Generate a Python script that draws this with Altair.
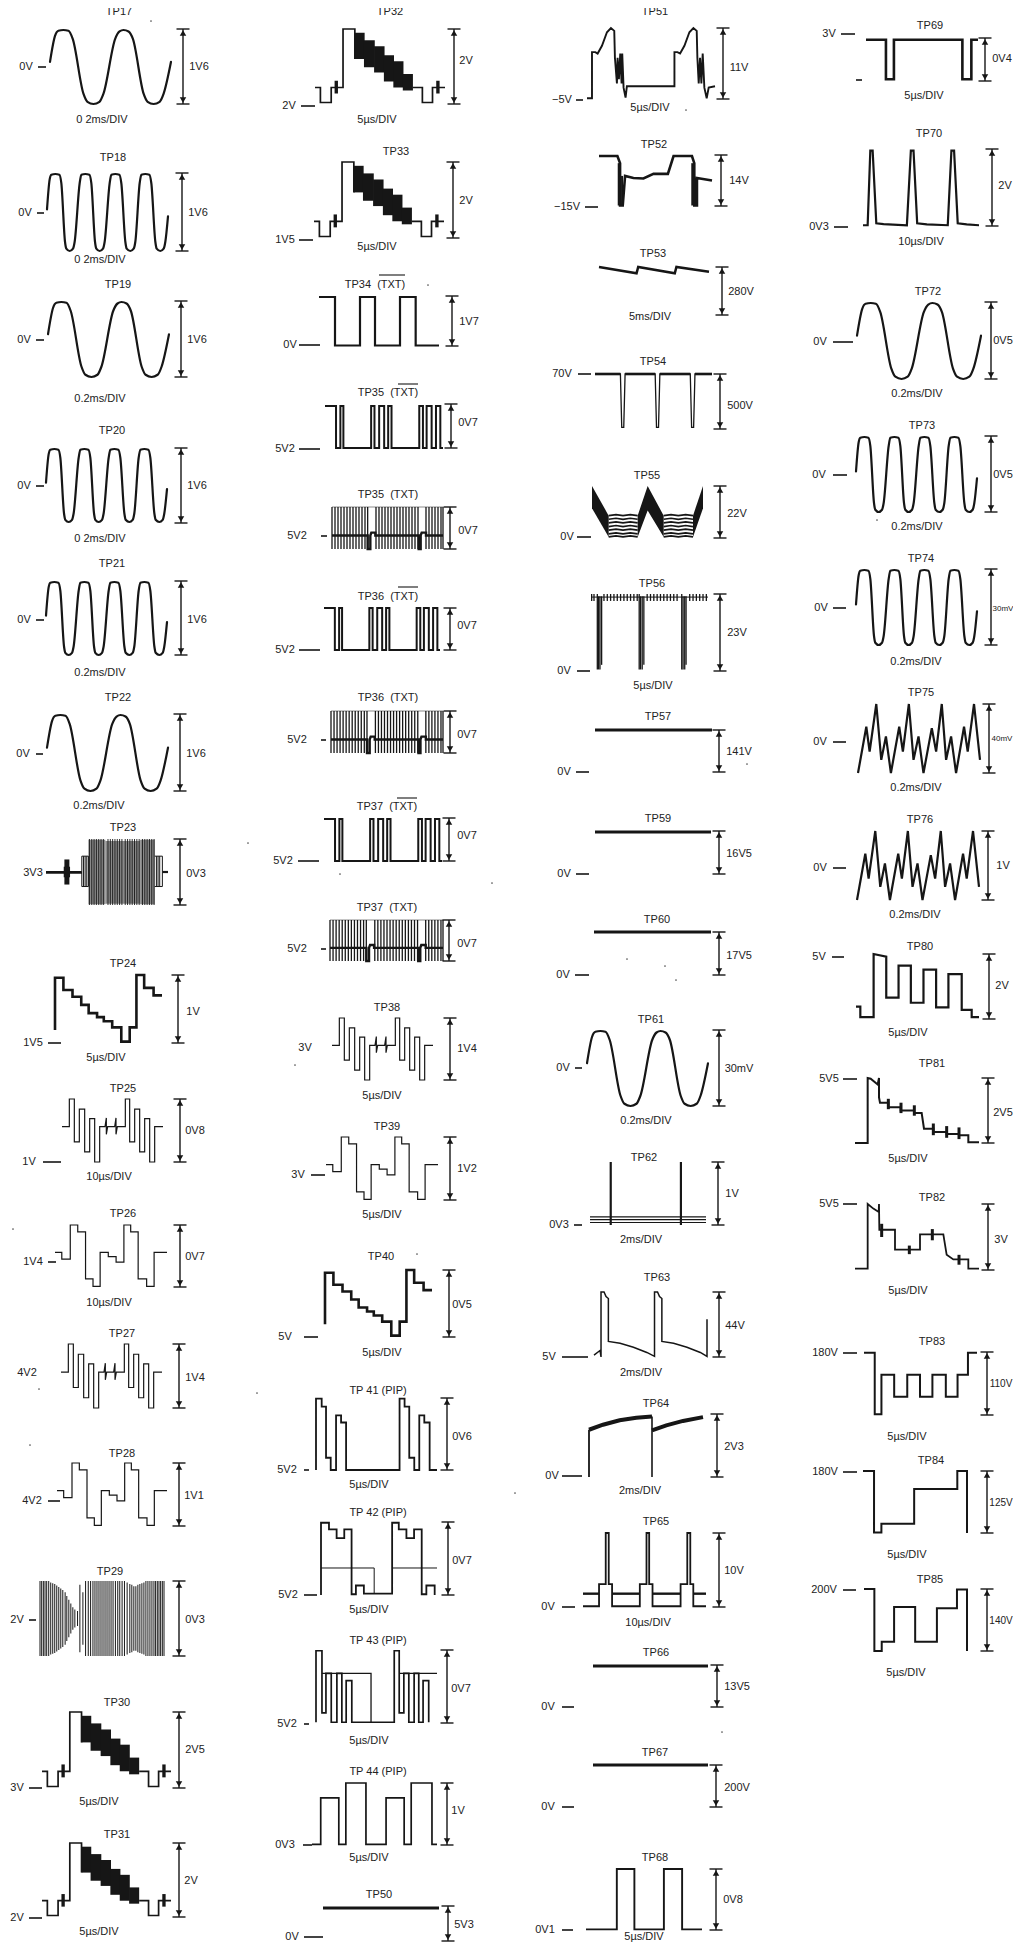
import altair as alt
import pandas as pd

alt.data_transformers.disable_max_rows()

INK = "#161616"
FONT = "Liberation Sans"
GAP = "\u00a0\u00a0"

# ---- text read from the sheet: (text, x, y)
TITLES = [
    ("TP17",119,12),("TP18",113,158),("TP19",118,285),("TP20",112,431),("TP21",112,564),("TP22",118,698),
    ("TP23",123,828),("TP24",123,964),("TP25",123,1089),("TP26",123,1214),("TP27",122,1334),("TP28",122,1454),
    ("TP29",110,1572),("TP30",117,1703),("TP31",117,1835),
    ("TP32",390,12),("TP33",396,152),("TP34"+GAP+"(TXT)",375,285),("TP35"+GAP+"(TXT)",388,393),("TP35"+GAP+"(TXT)",388,495),
    ("TP36"+GAP+"(TXT)",388,597),("TP36"+GAP+"(TXT)",388,698),("TP37"+GAP+"(TXT)",387,807),("TP37"+GAP+"(TXT)",387,908),
    ("TP38",387,1008),("TP39",387,1127),("TP40",381,1257),("TP 41 (PIP)",378,1391),("TP 42 (PIP)",378,1513),
    ("TP 43 (PIP)",378,1641),("TP 44 (PIP)",378,1772),("TP50",379,1895),
    ("TP51",655,12),("TP52",654,145),("TP53",653,254),("TP54",653,362),("TP55",647,476),("TP56",652,584),
    ("TP57",658,717),("TP59",658,819),("TP60",657,920),("TP61",651,1020),("TP62",644,1158),("TP63",657,1278),
    ("TP64",656,1404),("TP65",656,1522),("TP66",656,1653),("TP67",655,1753),("TP68",655,1858),
    ("TP69",930,26),("TP70",929,134),("TP72",928,292),("TP73",922,426),("TP74",921,559),("TP75",921,693),
    ("TP76",920,820),("TP80",920,947),("TP81",932,1064),("TP82",932,1198),("TP83",932,1342),("TP84",931,1461),
    ("TP85",930,1580),
]
OVERLINES = [(379,405,275),(398,418,384),(398,418,587),(397,417,798)]
TIME_LABELS = [
    ("0 2ms/DIV",102,120),("0 2ms/DIV",100,260),("0.2ms/DIV",100,399),("0 2ms/DIV",100,539),("0.2ms/DIV",100,673),
    ("0.2ms/DIV",99,806),("5µs/DIV",106,1058),("10µs/DIV",109,1177),("10µs/DIV",109,1303),("5µs/DIV",99,1802),
    ("5µs/DIV",99,1932),
    ("5µs/DIV",377,120),("5µs/DIV",377,247),("5µs/DIV",382,1096),("5µs/DIV",382,1215),("5µs/DIV",382,1353),
    ("5µs/DIV",369,1485),("5µs/DIV",369,1610),("5µs/DIV",369,1741),("5µs/DIV",369,1858),
    ("5µs/DIV",650,108),("5ms/DIV",650,317),("5µs/DIV",653,686),("0.2ms/DIV",646,1121),("2ms/DIV",641,1240),
    ("2ms/DIV",641,1373),("2ms/DIV",640,1491),("10µs/DIV",648,1623),("5µs/DIV",644,1937),
    ("5µs/DIV",924,96),("10µs/DIV",921,242),("0.2ms/DIV",917,394),("0.2ms/DIV",917,527),("0.2ms/DIV",916,662),
    ("0.2ms/DIV",916,788),("0.2ms/DIV",915,915),("5µs/DIV",908,1033),("5µs/DIV",908,1159),("5µs/DIV",908,1291),
    ("5µs/DIV",907,1437),("5µs/DIV",907,1555),("5µs/DIV",906,1673),
]
# (text, x, y, dash start, dash end)
LEVELS = [
    ("0V",26,67,38,46),("0V",25,213,37,44),("0V",24,340,36,44),("0V",24,486,36,44),("0V",24,620,36,44),
    ("0V",23,754,36,43),("3V3",33,873,46,82),("1V5",33,1043,48,61),("1V",29,1162,43,61),("1V4",33,1262,48,56),
    ("4V2",27,1373,0,0),("4V2",32,1501,48,60),("2V",17,1620,29,36),("3V",17,1788,29,42),("2V",17,1918,29,42),
    ("2V",289,106,301,315),("1V5",285,240,299,313),("0V",290,345,299,320),("5V2",285,449,299,320),
    ("5V2",297,536,321,327),("5V2",285,650,299,320),("5V2",297,740,321,326),("5V2",283,861,298,319),
    ("5V2",297,949,321,326),("3V",305,1048,0,0),("3V",298,1175,311,325),("5V",285,1337,304,318),
    ("5V2",287,1470,304,309),("5V2",288,1595,304,317),("5V2",287,1724,304,309),("0V3",285,1845,303,312),
    ("0V",292,1937,304,323),
    ("−5V",562,100,576,583),("−15V",567,207,585,598),("70V",562,374,578,591),("0V",567,537,577,591),
    ("0V",564,671,577,590),("0V",564,772,576,589),("0V",564,874,576,589),("0V",563,975,575,589),
    ("0V",563,1068,575,582),("0V3",559,1225,574,582),("5V",549,1357,562,588),("0V",552,1476,562,582),
    ("0V",548,1607,562,575),("0V",548,1707,562,574),("0V",548,1807,562,574),("0V1",545,1930,562,573),
    ("3V",829,34,841,855),("",0,80,856,862),("0V3",819,227,834,848),("0V",820,342,833,853),("0V",819,475,833,847),
    ("0V",821,608,833,846),("0V",820,742,833,846),("0V",820,868,833,846),("5V",819,957,832,844),
    ("5V5",829,1079,843,857),("5V5",829,1204,843,857),("180V",825,1353,843,857),("180V",825,1472,843,857),
    ("200V",824,1590,843,856),
]
# (arrow x, top, bottom, label, label x, label y)
ARROWS = [
    (183,29,104,"1V6",199,67),(182,173,251,"1V6",198,213),(181,301,377,"1V6",197,340),(181,448,523,"1V6",197,486),
    (181,581,655,"1V6",197,620),(180,714,791,"1V6",196,754),(180,839,905,"0V3",196,874),(178,975,1043,"1V",193,1012),
    (180,1099,1162,"0V8",195,1131),(180,1225,1287,"0V7",195,1257),(179,1344,1408,"1V4",195,1378),
    (179,1463,1526,"1V1",194,1496),(179,1581,1656,"0V3",195,1620),(179,1712,1788,"2V5",195,1750),(179,1843,1917,"2V",191,1881),
    (454,29,104,"2V",466,61),(453,162,238,"2V",466,201),(452,296,346,"1V7",469,322),(451,404,448,"0V7",468,423),
    (450,507,549,"0V7",468,531),(450,608,650,"0V7",467,626),(450,711,753,"0V7",467,735),(449,818,861,"0V7",467,836),
    (449,920,961,"0V7",467,944),(450,1018,1080,"1V4",467,1049),(450,1137,1200,"1V2",467,1169),(449,1270,1337,"0V5",462,1305),
    (447,1398,1470,"0V6",462,1437),(448,1522,1595,"0V7",462,1561),(447,1650,1723,"0V7",461,1689),(447,1783,1845,"1V",458,1811),
    (448,1906,1941,"5V3",464,1925),
    (723,28,99,"11V",739,68),(721,155,206,"14V",739,181),(722,267,315,"280V",741,292),(720,374,429,"500V",740,406),
    (720,486,538,"22V",737,514),(720,594,671,"23V",737,633),(719,730,772,"141V",739,752),(719,831,874,"16V5",739,854),
    (719,932,975,"17V5",739,956),(719,1030,1106,"30mV",739,1069),(718,1162,1225,"1V",732,1194),(719,1292,1357,"44V",735,1326),
    (717,1414,1477,"2V3",734,1447),(719,1533,1607,"10V",734,1571),(717,1665,1707,"13V5",737,1687),(716,1765,1807,"200V",737,1788),
    (716,1869,1930,"0V8",733,1900),
    (985,38,81,"0V4",1002,59),(992,149,226,"2V",1005,186),(991,302,379,"0V5",1003,341),(991,436,512,"0V5",1003,475),
    (991,569,645,"30mV",1003,609),(989,704,773,"40mV",1002,739),(988,831,900,"1V",1003,866),(989,954,1019,"2V",1002,986),
    (988,1078,1143,"2V5",1003,1113),(988,1204,1270,"3V",1001,1240),(987,1352,1415,"110V",1001,1384),
    (987,1471,1533,"125V",1001,1503),(987,1589,1651,"140V",1001,1621),
]
# labels squeezed against the right edge of the page
SMALL_LABELS = {("30mV",1003):8, ("40mV",1002):8, ("110V",1001):10, ("125V",1001):10, ("140V",1001):10}
SPECKS = [(151,21),(248,843),(13,1229),(39,1389),(30,1445),(257,1393),(428,285),(340,874),(492,883),(295,1065),
          (417,1254),(515,1493),(686,110),(627,959),(665,966),(676,980),(747,764),(722,1732),(877,520)]

# ---- waveform shapes: t = time in reading units, v = % of the peak-to-peak height
SLOW_T = [150,165,175,190,205,218,250,262,280,298,310,345,358,370,385,398,430,442,460,478,490,512]
SLOW_V = [57,92,99,100,99,88,14,3,0,3,14,88,98,100,98,88,14,3,0,3,14,57]
FAST_T = [140,148,153,165,177,183,194,198,208,218,223,238,243,255,267,273,284,288,298,308,313,328,333,345,357,363,375,379,390,400,405,418,423,435,447,453,465,469,480,490,495,503]
FAST_V = [54,93,99,100,99,88,12,3,0,3,12,88,99,100,99,88,12,3,0,3,12,88,99,100,99,88,12,3,0,3,12,88,99,100,99,88,12,3,0,3,12,45]
STAIR_T = [165,165,190,190,217,217,243,243,265,265,290,290,310,310,335,335,362,362,387,387,407,407,430,430,458,458,483]
STAIR_V = [19,96,96,78,78,68,68,56,56,44,44,38,38,32,32,23,23,2,2,23,23,100,100,81,81,70,70]
GLITCH_T = [185,207,207,222,222,237,237,253,253,268,268,283,283,298,298,314,318,318,322,343,347,347,351,375,375,388,388,403,403,418,418,433,433,448,448,463,463,488]
GLITCH_V = [56,56,100,100,32,32,84,84,16,16,69,69,0,0,56,56,70,44,56,56,70,44,56,56,100,100,32,32,84,84,16,16,69,69,0,0,56,56]
STEPS_T = [170,190,190,215,215,237,237,260,260,282,282,303,303,327,327,350,350,373,373,393,393,415,415,440,440,462,462,500]
STEPS_V = [56,56,45,45,100,100,89,89,13,13,1,1,56,56,49,49,40,40,100,100,89,89,13,13,1,1,56,56]
VS_A_T = [127,143,143,175,175,210,210,245,245]
VS_A_V = [22,22,2,2,22,22,100,100,60]
VS_B_T = [417,445,445,475,475,512]
VS_B_V = [22,22,2,2,22,22]
VS_BLOCK_T0 = [245,272,302,331,359,387,185,486]
VS_BLOCK_T1 = [274,304,333,361,389,417,195,496]
VS_BLOCK_HI = [95,85,77,65,57,40,31,31]
VS_BLOCK_LO = [60,49,42,30,22,18,14,14]
TXTBAR_T = [195,228,228,241,241,250,250,333,333,343,343,357,357,372,372,384,384,394,394,477,477,488,488,499,499,514,514,527,527,540,540,548]
TXTBAR_V = [100,100,0,0,100,100,0,0,100,100,0,0,100,100,0,0,100,100,0,0,100,100,0,0,100,100,0,0,100,100,0,0]
COMB_T = [215,224,233,242,251,260,269,278,287,296,305,314,322,347,356,365,374,383,392,401,410,419,428,437,446,455,464,473,497,506,515,524,533,542,548]
COMB_MID_T = [215,322,322,330,330,333,345,345,475,475,481,481,484,497,497,548]
COMB_MID_V = [32,32,0,0,32,39,39,32,32,0,0,32,39,39,32,32]
TOP_T = [215,548]
TOP_V = [100,100]
P34_T = [177,225,225,300,300,345,345,420,420,467,467,537]
P34_V = [100,100,1,1,100,100,1,1,100,100,1,1]
P41_T = [168,168,185,185,198,198,212,212,228,228,243,243,258,258,418,418,433,433,447,447,462,462,477,477,492,492,508,508,530]
P41_V = [0,99,99,88,88,17,17,0,0,76,76,66,66,0,0,99,99,88,88,17,17,0,0,76,76,66,66,0,0]
P42_T = [183,183,207,207,230,230,253,253,275,275,288,288,312,312,397,397,417,417,440,440,463,463,486,486,500,500,525,525]
P42_V = [0,99,99,90,90,78,78,90,90,1,1,13,13,2,2,99,99,90,90,78,78,90,90,1,1,13,13,0]
P42_B_T = [183,343,343]
P42_B_V = [37,37,2]
P42_C_T = [397,532]
P42_C_V = [37,37]
P43_T = [167,167,185,185,197,197,213,213,230,230,245,245,258,258,275,275,403,403,418,418,432,432,447,447,463,463,477,477,490,490,507,507]
P43_V = [1,99,99,14,14,68,68,1,1,68,68,1,1,58,58,1,1,99,99,14,14,68,68,1,1,68,68,1,1,58,58,1]
P43_B_T = [185,333,333]
P43_B_V = [68,68,1]
P43_C_T = [418,532]
P43_C_V = [68,68]
P44_T = [157,183,183,237,237,258,258,318,318,378,378,432,432,453,453,515,515,530]
P44_V = [1,1,76,76,1,1,100,100,1,1,76,76,1,1,100,100,1,1]
FLAT_T = [0,100]
FLAT_V = [50,50]
P51_T = [200,215,215,225,232,245,260,272,282,284,287,290,292,296,300,304,306,310,316,320,463,463,472,480,493,508,520,530,532,536,540,544,548,553,560,566,585]
P51_V = [1,1,66,66,64,75,94,100,96,58,40,22,58,28,64,22,64,16,2,18,18,66,66,64,75,94,100,96,58,22,58,22,64,16,1,16,18]
P52_T = [237,292,300,300,308,315,340,370,400,443,460,515,522,522,530,530,575]
P52_V = [98,98,84,1,1,59,55,54,63,63,98,98,84,1,1,55,50]
P52_TICK_T = [296,306,516,526]
P52_TICK_HI = [84,59,84,55]
P52_TICK_LO = [1,1,1,1]
P53_T = [237,350,355,465,470,568]
P53_V = [100,87,100,87,100,90]
P54_T = [225,301,305,311,315,405,409,415,419,510,514,520,524,575]
P54_V = [100,100,3,3,100,100,3,3,100,100,3,3,100,100]
P54_TOP_T = [[225,301],[315,405],[419,510],[524,575]]
P54_TOP_V = [100,100]
P55_A_T = [[215,265],[352,382,430],[518,548]]
P55_A_HI = [[100,43],[43,100,43],[43,100]]
P55_A_LO = [[57,2],[2,53,2],[2,57]]
WAVE_T = [[265,287,308,330,352],[430,452,474,496,518]]
WAVE_BASE = [43,36,29,22,15,8,2]
WAVE_BUMP = [0,2,0,2,0]
P56_RIM_T = [213,565]
P56_RIM_V = [96,96]
P56_TICK_T = [215,222,232,236,240,245,252,262,272,282,292,302,312,322,332,342,352,358,362,367,372,382,392,402,412,422,432,442,452,462,472,486,490,495,499,510,520,530,540,550,560]
P56_TICK_HI = [100,100,100,97,97,97,100,100,100,100,100,100,100,100,100,100,100,100,97,97,97,100,100,100,100,100,100,100,100,100,100,100,97,97,97,100,100,100,100,100,100]
P56_TICK_LO = [91,91,2,2,2,8,91,91,91,91,91,91,91,91,91,91,91,2,2,2,8,91,91,91,91,91,91,91,91,91,91,2,2,2,8,91,91,91,91,91,91]
P62_TICK_T = [272,482]
P62_TICK_HI = [100,100]
P62_TICK_LO = [0,0]
P62_T = [210,557]
P62_BANDS = [13,8.5,4]
P63_T = [222,240,243,243,252,258,265,265,300,340,380,403,403,412,418,425,425,460,500,540,560,560]
P63_V = [3,10,0,100,100,93,90,24,21,15,7,1,100,100,93,90,24,21,15,7,1,58]
P64_A_T = [208,208]
P64_A_V = [0,75]
P64_B_T = [208,250,300,350,397]
P64_B_V = [75,83,90,94,96]
P64_C_T = [397,397]
P64_C_V = [96,0]
P64_D_T = [397,440,490,550]
P64_D_V = [74,82,89,95]
P65_T = [190,238,238,258,258,267,267,277,277,360,360,380,380,388,388,398,398,482,482,502,502,511,511,520,520,558]
P65_V = [1,1,31,31,100,100,31,31,1,1,31,31,100,100,31,31,1,1,31,31,100,100,31,31,1,1]
P65_UP_T = [[190,238],[277,360],[398,482],[520,558]]
P65_UP_V = [18,18]
P68_T = [197,290,290,343,343,432,432,487,487,547]
P68_V = [1,1,100,100,1,1,100,100,1,1]
P69_T = [258,318,318,342,342,548,548,575,575,595]
P69_V = [96,96,4,4,96,96,4,4,96,96]
P70_T = [248,262,270,277,288,310,380,392,400,411,440,503,514,522,533,560,597]
P70_V = [1,1,98,98,3.5,2.5,1,98,98,3.5,2,1,98,98,3.5,2,1]
NOISE_T = [233,258,268,288,303,317,332,357,368,386,400,415,430,455,468,485,498,513,528,552,563,582,600]
NOISE_V = [0,67,31,100,19,53,0,67,31,100,19,53,0,65,31,100,19,53,0,67,31,100,19]
P80_T = [227,240,240,280,280,318,318,355,355,392,392,430,430,468,468,505,505,545,545,575,575,597]
P80_V = [19,19,3,3,100,96,33,33,82,82,25,25,76,76,18,18,69,69,14,14,3,3]
P81_T = [225,263,263,272,293,297,297,300,325,325,362,362,402,402,425,432,460,460,500,500,537,537,565,565,597]
P81_V = [0,0,100,99,90,100,70,62,62,55,55,50,50,46,46,22,22,17,17,14,14,12,12,1,1]
P81_TICK_T = [325,363,403,460,500,537]
P81_TICK_HI = [68,62,58,30,26,24]
P81_TICK_LO = [52,46,42,12,8,6]
P82_T = [225,263,263,280,296,297,298,345,345,420,420,490,500,520,565,565,597]
P82_V = [2,2,100,93,88,100,61,61,31,31,54,54,23,16,16,2,2]
P82_TICK_T = [305,388,457,537]
P82_TICK_HI = [70,37,62,23]
P82_TICK_LO = [50,24,45,8]
P83_T = [253,285,285,305,305,343,343,382,382,420,420,457,457,497,497,532,532,563,563,590]
P83_V = [99,99,1,1,64,64,29,29,64,64,29,29,64,64,29,29,64,64,99,99]
P84_T = [250,283,283,305,305,403,403,532,532,561,561]
P84_V = [100,100,1,1,15,15,71,71,100,100,0]
P85_T = [252,283,283,305,305,342,342,405,405,470,470,530,530,560,560]
P85_V = [100,100,0,0,15,15,71,71,15,15,69,69,99,99,0]
P23_LINE_T = [137,245]
P23_LINE_V = [50,50]
P23_BOX_L_T = [245,245,265,265,245]
P23_BOX_R_T = [465,488,488,465]
P23_BOX_V = [28,74,74,28,28]
P23_BOX_RV = [74,74,28,28]
P23_END_T = [488,505]
P23_TICK_T = [200,195,205,250,255,260,470,475,480,268,275,282,289,296,303,310,324,331,338,345,352,359,366,376,383,390,397,404,411,418,428,435,442,449,456,463]
P23_TICK_HI = [69,58,58,74,74,74,74,74,74]+[100]*27
P23_TICK_LO = [31,42,42,28,28,28,28,28,28]+[0]*27
P23_TICK_W = [5,3,3,1,1,1,1,1,1]+[0.9]*27
P23_BLOCK_T0 = [265,316,369,421]
P23_BLOCK_T1 = [316,369,421,465]
P29_T = [120,125,130,135,140,146,152,158,164,170,176,182,188,195,200,206,212,218,224,232,239,248,256,264,271,278,284,290,296,302,308,314,320,326,332,338,345,352,358,365,372,380,388,394,400,406,412,418,424,430,436,442,448,454,460,465,470,475,480,485,490]
P29_HI = [100,100,100,100,100,100,98,97,96,94,92,90,88,85,80,75,70,65,62,60,95,85,100,100,100,100,100,100,100,100,100,100,100,100,100,100,100,100,100,100,100,98,96,95,93,93,95,96,97,98,100,100,100,100,100,100,100,100,100,100,100]


def shape(lines=(), ticks=None, rects=None, areas=None, smooth=False):
    return dict(lines=list(lines), ticks=ticks, rects=rects, areas=areas, smooth=smooth)

VSYNC = shape([(VS_A_T,VS_A_V,1),(VS_B_T,VS_B_V,1)],
              rects=(VS_BLOCK_T0,VS_BLOCK_T1,VS_BLOCK_HI,VS_BLOCK_LO,INK))
TXTBAR = shape([(TXTBAR_T,TXTBAR_V,1)])
COMB = shape([(TOP_T,TOP_V,0.5),(COMB_MID_T,COMB_MID_V,2.4)],
             ticks=(COMB_T,[100]*len(COMB_T),[0]*len(COMB_T),[1.3]*len(COMB_T)))
SLOW = shape([(SLOW_T,SLOW_V,1)],smooth=True)
FAST = shape([(FAST_T,FAST_V,1)],smooth=True)
STAIR = shape([(STAIR_T,STAIR_V,1)])
GLITCH = shape([(GLITCH_T,GLITCH_V,1)])
STEPS = shape([(STEPS_T,STEPS_V,1)])
FLAT = shape([(FLAT_T,FLAT_V,1)])
NOISE = shape([(NOISE_T,NOISE_V,1)])

WAVE_LINES = [(ts,[b+k for k in WAVE_BUMP],1) for ts in WAVE_T for b in WAVE_BASE]

# (shape, left, right, top, bottom, stroke width)
TRACES = [
    (SLOW,50,171,30,104,2.2),(FAST,47,168,174,251,2.2),(SLOW,48,169,302,377,2.2),(FAST,46,167,449,522,2.2),
    (FAST,46,167,582,655,2.2),(SLOW,47,168,715,791,2.2),
    (shape([(P23_LINE_T,P23_LINE_V,2.2),(P23_BOX_L_T,P23_BOX_V,1),(P23_BOX_R_T,P23_BOX_RV,1),(P23_END_T,P23_LINE_V,2.2)],
           ticks=(P23_TICK_T,P23_TICK_HI,P23_TICK_LO,P23_TICK_W),
           rects=(P23_BLOCK_T0,P23_BLOCK_T1,[99,97,97,99],[1,2,2,1],"#8a8a8a")),46,168,839,905,1),
    (STAIR,55,162,975,1043,2.6),(GLITCH,62,163,1099,1162,1.2),(STEPS,55,167,1225,1287,1.2),
    (GLITCH,61,162,1344,1408,1.2),(STEPS,57,167,1463,1526,1.2),
    (shape([],ticks=(P29_T,P29_HI,[100-h for h in P29_HI],[1.0]*len(P29_T))),40,164,1581,1656,1),
    (VSYNC,42,171,1712,1788,1.7),(VSYNC,42,171,1843,1917,1.7),
    (VSYNC,315,445,29,104,1.7),(VSYNC,314,444,162,238,1.7),
    (shape([(P34_T,P34_V,1)]),319,439,297,346,2.2),
    (TXTBAR,325,443,406,448,2),(COMB,332,443,507,549,1),(TXTBAR,324,440,608,650,2),(COMB,331,443,711,753,1),
    (TXTBAR,324,442,819,861,2),(COMB,330,443,920,961,1),(GLITCH,332,433,1018,1080,1.2),(STEPS,326,438,1137,1200,1.2),
    (STAIR,325,432,1270,1337,2.6),
    (shape([(P41_T,P41_V,1)]),316,437,1398,1470,1.8),
    (shape([(P42_T,P42_V,1.8),(P42_B_T,P42_B_V,1),(P42_C_T,P42_C_V,1)]),321,437,1522,1595,1),
    (shape([(P43_T,P43_V,1.7),(P43_B_T,P43_B_V,1.3),(P43_C_T,P43_C_V,1.3)]),316,437,1650,1723,1),
    (shape([(P44_T,P44_V,1)]),312,437,1783,1845,1.7),
    (FLAT,323,439,1908,1908,3),
    (shape([(P51_T,P51_V,1)]),587,715,28,99,1.9),
    (shape([(P52_T,P52_V,1)],ticks=(P52_TICK_T,P52_TICK_HI,P52_TICK_LO,[2,2,2,2])),599,712,155,206,2.6),
    (shape([(P53_T,P53_V,1)]),599,709,267,315,2.5),
    (shape([(P54_T,P54_V,1.3)]+[(ts,P54_TOP_V,2.6) for ts in P54_TOP_T]),595,712,374,429,1),
    (shape(WAVE_LINES,areas=list(zip(P55_A_T,P55_A_HI,P55_A_LO))),592,703,486,538,1.7),
    (shape([(P56_RIM_T,P56_RIM_V,1)],ticks=(P56_TICK_T,P56_TICK_HI,P56_TICK_LO,[1.3]*len(P56_TICK_T))),591,708,594,671,1),
    (FLAT,595,712,730,730,3),(FLAT,595,711,832,832,3),(FLAT,594,711,932,932,3),
    (SLOW,587,708,1031,1106,2.2),
    (shape([(P62_T,[b,b],1.2) for b in P62_BANDS],ticks=(P62_TICK_T,P62_TICK_HI,P62_TICK_LO,[2.2,2.2])),590,706,1162,1225,1),
    (shape([(P63_T,P63_V,1)]),594,707,1292,1357,1.5),
    (shape([(P64_A_T,P64_A_V,1.8),(P64_B_T,P64_B_V,4),(P64_C_T,P64_C_V,1.6),(P64_D_T,P64_D_V,4)]),589,703,1414,1477,1),
    (shape([(P65_T,P65_V,1.8)]+[(ts,P65_UP_V,2.4) for ts in P65_UP_T]),583,706,1533,1607,1),
    (FLAT,593,708,1666,1666,3),(FLAT,593,708,1765,1765,3),
    (shape([(P68_T,P68_V,1)]),586,702,1869,1930,1.9),
    (shape([(P69_T,P69_V,1)]),866,978,38,81,2.6),
    (shape([(P70_T,P70_V,1)]),863,979,149,226,2.2),
    (SLOW,857,981,303,379,2.2),(FAST,856,977,437,512,2.2),(FAST,856,977,570,645,2.2),
    (NOISE,858,980,704,773,2.2),(NOISE,857,979,831,900,2.2),
    (shape([(P80_T,P80_V,1)]),856,979,954,1019,2.2),
    (shape([(P81_T,P81_V,1)],ticks=(P81_TICK_T,P81_TICK_HI,P81_TICK_LO,[3]*6)),855,979,1078,1143,2),
    (shape([(P82_T,P82_V,1)],ticks=(P82_TICK_T,P82_TICK_HI,P82_TICK_LO,[3]*4)),855,979,1204,1270,1.8),
    (shape([(P83_T,P83_V,1)]),864,977,1352,1415,2),(shape([(P84_T,P84_V,1)]),863,967,1471,1533,2),
    (shape([(P85_T,P85_V,1)]),864,967,1589,1651,2),
]


# ---- build tables
line_rows, smooth_rows, tick_rows, rect_rows, area_rows = [], [], [], [], []
ident = 0
for sh, x0, x1, top, bot, w in TRACES:
    ts = []
    for t, _, _ in sh["lines"]:
        ts += list(t)
    if sh["ticks"]:
        ts += list(sh["ticks"][0])
    if sh["rects"]:
        ts += list(sh["rects"][0]) + list(sh["rects"][1])
    if sh["areas"]:
        for a in sh["areas"]:
            ts += list(a[0])
    tmin, tmax = min(ts), max(ts)
    fx = lambda t: x0 + (t - tmin) / (tmax - tmin) * (x1 - x0)
    fy = lambda v: bot + (v / 100.0) * (top - bot)
    target = smooth_rows if sh["smooth"] else line_rows
    for t, v, k in sh["lines"]:
        ident += 1
        for i, (a, b) in enumerate(zip(t, v)):
            target.append(dict(id=ident, seq=i, x=fx(a), y=fy(b), w=k * w))
    if sh["ticks"]:
        for a, hi, lo, tw in zip(*sh["ticks"]):
            tick_rows.append(dict(x=fx(a), y=fy(hi), y2=fy(lo), w=tw))
    if sh["rects"]:
        a0, a1, hi, lo, col = sh["rects"]
        for p, q, h, l in zip(a0, a1, hi, lo):
            rect_rows.append(dict(x=fx(p), x2=fx(q), y=fy(h), y2=fy(l), c=col))
    if sh["areas"]:
        for at, ah, al in sh["areas"]:
            ident += 1
            for i, (a, h, l) in enumerate(zip(at, ah, al)):
                area_rows.append(dict(id=ident, x=fx(a), y=fy(h), y2=fy(l)))

hrule_rows, vrule_rows, head_rows, text_rows = [], [], [], []
for a, b, y in OVERLINES:
    hrule_rows.append(dict(x=a, x2=b, y=y, w=1.1))
for txt, x, y, d0, d1 in LEVELS:
    if txt:
        text_rows.append(dict(x=x, y=y, t=txt, fs=11))
    if d1 > d0:
        hrule_rows.append(dict(x=d0, x2=d1, y=y, w=1.6))
for x, top, bot, lab, lx, ly in ARROWS:
    vrule_rows.append(dict(x=x, y=top, y2=bot))
    hrule_rows.append(dict(x=x - 6.5, x2=x + 6.5, y=top, w=1.4))
    hrule_rows.append(dict(x=x - 6.5, x2=x + 6.5, y=bot, w=1.4))
    head_rows.append(dict(x=x, y=top + 4, s="triangle-up"))
    head_rows.append(dict(x=x, y=bot - 4, s="triangle-down"))
    text_rows.append(dict(x=lx, y=ly, t=lab, fs=SMALL_LABELS.get((lab, lx), 11)))
for txt, x, y in TITLES + TIME_LABELS:
    text_rows.append(dict(x=x, y=y, t=txt, fs=11))
speck_df = pd.DataFrame(SPECKS, columns=["x", "y"])

# the plot area is the page minus its 8px margin; the scales read in sheet pixels
xs = alt.Scale(domain=[8, 1013], nice=False, zero=False, padding=0)
ys = alt.Scale(domain=[1943, 8], nice=False, zero=False, padding=0)
X = alt.X("x:Q", scale=xs, axis=None)
Y = alt.Y("y:Q", scale=ys, axis=None)
WID = alt.StrokeWidth("w:Q", scale=None)


def df(rows):
    return pd.DataFrame(rows)


layers = [
    alt.Chart(df(rect_rows)).mark_rect().encode(X, alt.X2("x2:Q"), Y, alt.Y2("y2:Q"), color=alt.Color("c:N", scale=None)),
    alt.Chart(df(area_rows)).mark_area(color=INK).encode(X, Y, alt.Y2("y2:Q"), detail="id:N"),
    alt.Chart(df(tick_rows)).mark_rule(color=INK).encode(X, Y, alt.Y2("y2:Q"), WID),
    alt.Chart(df(line_rows)).mark_line(color=INK, strokeJoin="miter", strokeCap="butt").encode(X, Y, WID, detail="id:N", order="seq:Q"),
    alt.Chart(df(smooth_rows)).mark_line(color=INK, interpolate="monotone", strokeCap="round").encode(X, Y, WID, detail="id:N", order="seq:Q"),
    alt.Chart(df(hrule_rows)).mark_rule(color=INK).encode(X, alt.X2("x2:Q"), Y, WID),
    alt.Chart(df(vrule_rows)).mark_rule(color=INK, strokeWidth=1.4).encode(X, Y, alt.Y2("y2:Q")),
    alt.Chart(df(head_rows)).mark_point(filled=True, opacity=1, size=42, color=INK).encode(X, Y, shape=alt.Shape("s:N", scale=None)),
    alt.Chart(speck_df).mark_point(filled=True, opacity=1, size=3, color="#555555").encode(X, Y),
    alt.Chart(df(text_rows)).mark_text(font=FONT, color="#222222", align="center", baseline="middle").encode(
        X, Y, text="t:N", size=alt.Size("fs:Q", scale=None)),
]

chart = alt.layer(*layers).properties(
    width=1005, height=1935, padding=0, background="white",
    autosize=alt.AutoSizeParams(type="none"),
).configure_view(stroke=None)

chart.save("out.html", embed_options={"renderer": "svg", "actions": False})
